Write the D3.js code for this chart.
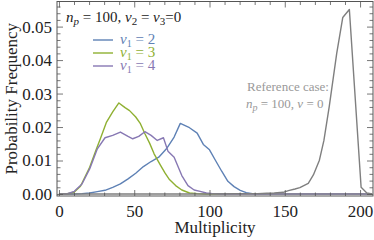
<!DOCTYPE html>
<html>
<head>
<meta charset="utf-8">
<script src="https://cdn.jsdelivr.net/npm/d3@7"></script>
<style>
  body { margin: 0; background: #fff; }
  text { font-family: "Liberation Serif", "DejaVu Serif", serif; }
</style>
</head>
<body>
<div id="canvas"></div>
<script>
// multiplicity values and frequencies
var nu2X = [0, 10.2, 15.3, 20.4, 25.5, 30.6, 35.7, 40.8, 45.9, 51, 56.1, 61.2, 66.3, 71.4, 76.5, 80.6, 86.7, 91.8, 95.9, 100, 104, 108.1, 112.2, 116.3, 120.4, 124.4, 128.5, 132.6, 208];
var nu2Y = [0, 0, 0.0001, 0.0003, 0.0007, 0.0011, 0.002, 0.003, 0.0045, 0.0062, 0.0082, 0.0097, 0.011, 0.0135, 0.017, 0.0211, 0.0198, 0.0182, 0.0148, 0.0132, 0.01, 0.0068, 0.0038, 0.0022, 0.0011, 0.0004, 0.0001, 0, 0];

var nu3X = [0, 5.1, 10.2, 14.3, 20.4, 24.5, 27.5, 31.6, 35.7, 39.8, 43.9, 46.9, 51, 54.1, 57.1, 60.2, 63.2, 67.3, 70.4, 73.4, 77.5, 81.6, 86.7, 91.8, 96.9, 208];
var nu3Y = [0, 0, 0.0006, 0.0023, 0.008, 0.013, 0.0165, 0.0215, 0.0245, 0.0272, 0.0258, 0.0249, 0.023, 0.021, 0.018, 0.0152, 0.012, 0.0087, 0.0063, 0.0043, 0.0025, 0.0012, 0.0003, 0.0001, 0, 0];

var nu4X = [0, 5.1, 10.2, 15.3, 20.4, 25.5, 30.6, 35.7, 40.8, 45.9, 49, 53, 57.1, 61.2, 65.3, 69.4, 72.4, 76.5, 81.6, 85.7, 89.8, 93.8, 97.9, 102, 107.1, 208];
var nu4Y = [0, 0, 0.0008, 0.003, 0.0075, 0.0135, 0.0168, 0.0175, 0.0185, 0.0172, 0.0165, 0.0172, 0.0186, 0.0175, 0.016, 0.0168, 0.0128, 0.011, 0.0055, 0.0025, 0.0012, 0.0008, 0.0003, 0.0001, 0, 0];

var refX = [0, 100, 122, 132, 138, 143, 149, 152.4, 156.8, 160, 165.6, 169, 173, 176, 179.5, 184.5, 188.5, 192.9, 200.7, 204.5, 208];
var refY = [0, 0, 0.0001, 0.0001, 0.0002, 0.0003, 0.0005, 0.001, 0.0015, 0.0019, 0.0032, 0.0057, 0.0101, 0.016, 0.026, 0.042, 0.0527, 0.0551, 0.002, 0.0003, 0];

var seriesNames = ["2", "3", "4"];
var seriesColors = ["#5E81B5", "#8FB032", "#8778B3"];
var refColor = "#7f7f7f";

var xMajor = [0, 50, 100, 150, 200];
var yMajor = [0, 0.01, 0.02, 0.03, 0.04, 0.05];

var W = 374, H = 240;
var frame = {left: 57, right: 373, top: 1.5, bottom: 196};

var svg = d3.select("#canvas").append("svg")
  .attr("width", W).attr("height", H);

var x = d3.scaleLinear().domain([-1.3, 208.6]).range([frame.left, frame.right]);
var y = d3.scaleLinear().domain([-0.0006, 0.0575]).range([frame.bottom, frame.top]);

var line = d3.line()
  .x(function(d) { return x(d[0]); })
  .y(function(d) { return y(d[1]); });

function pairs(xs, ys) { return xs.map(function(v, i) { return [v, ys[i]]; }); }

var all = [pairs(nu2X, nu2Y), pairs(nu3X, nu3Y), pairs(nu4X, nu4Y)];

var plot = svg.append("g");
all.forEach(function(s, i) {
  plot.append("path").datum(s)
    .attr("d", line)
    .attr("fill", "none")
    .attr("stroke", seriesColors[i])
    .attr("stroke-width", 1.4)
    .attr("stroke-linejoin", "round");
});
plot.append("path").datum(pairs(refX, refY))
  .attr("d", line)
  .attr("fill", "none")
  .attr("stroke", refColor)
  .attr("stroke-width", 1.4)
  .attr("stroke-linejoin", "round");

// frame with inward ticks on all sides
var axisColor = "#555";
var xMinor = d3.range(0, 209, 10).filter(function(v) { return v % 50 !== 0; });
var yMinor = d3.range(0, 0.0575, 0.002).filter(function(v) { return Math.abs(v / 0.01 - Math.round(v / 0.01)) > 1e-6; });

svg.append("g")
  .attr("transform", "translate(0," + frame.bottom + ")")
  .call(d3.axisBottom(x).tickValues(xMajor).tickSize(-6).tickPadding(9)
    .tickFormat(d3.format("d")));
svg.append("g")
  .attr("transform", "translate(0," + frame.bottom + ")")
  .call(d3.axisBottom(x).tickValues(xMinor).tickSize(-3.5).tickFormat(""));
svg.append("g")
  .attr("transform", "translate(0," + frame.top + ")")
  .call(d3.axisTop(x).tickValues(xMajor).tickSize(-6).tickFormat(""));
svg.append("g")
  .attr("transform", "translate(0," + frame.top + ")")
  .call(d3.axisTop(x).tickValues(xMinor).tickSize(-3.5).tickFormat(""));

svg.append("g")
  .attr("transform", "translate(" + frame.left + ",0)")
  .call(d3.axisLeft(y).tickValues(yMajor).tickSize(-6).tickPadding(5)
    .tickFormat(d3.format(".2f")));
svg.append("g")
  .attr("transform", "translate(" + frame.left + ",0)")
  .call(d3.axisLeft(y).tickValues(yMinor).tickSize(-3.5).tickFormat(""));
svg.append("g")
  .attr("transform", "translate(" + frame.right + ",0)")
  .call(d3.axisRight(y).tickValues(yMajor).tickSize(-6).tickFormat(""));
svg.append("g")
  .attr("transform", "translate(" + frame.right + ",0)")
  .call(d3.axisRight(y).tickValues(yMinor).tickSize(-3.5).tickFormat(""));

svg.selectAll(".domain").remove();
svg.selectAll(".tick line").attr("stroke", axisColor).attr("stroke-width", 0.8);
svg.selectAll("g").attr("font-family", "Liberation Serif");
svg.selectAll(".tick text")
  .attr("fill", "#222")
  .attr("font-family", "Liberation Serif")
  .attr("font-size", 17);

svg.append("rect")
  .attr("x", frame.left).attr("y", frame.top)
  .attr("width", frame.right - frame.left).attr("height", frame.bottom - frame.top)
  .attr("fill", "none").attr("stroke", axisColor).attr("stroke-width", 1);

// axis titles
svg.append("text")
  .attr("x", 215).attr("y", 233)
  .attr("text-anchor", "middle").attr("font-size", 17).attr("fill", "#222")
  .text("Multiplicity");
svg.append("text")
  .attr("transform", "translate(17," + ((frame.top + frame.bottom) / 2) + ") rotate(-90)")
  .attr("text-anchor", "middle").attr("font-size", 17).attr("fill", "#222")
  .text("Probability Frequency");

// legend header
var hdr = svg.append("text").attr("x", 66).attr("y", 22).attr("font-size", 15).attr("fill", "#222");
hdr.append("tspan").attr("font-style", "italic").text("n");
hdr.append("tspan").attr("font-style", "italic").attr("font-size", 11).attr("dy", 3).text("p");
hdr.append("tspan").attr("dy", -3).text(" = 100, ");
hdr.append("tspan").attr("font-style", "italic").text("\u03bd");
hdr.append("tspan").attr("font-size", 11).attr("dy", 3).text("2");
hdr.append("tspan").attr("dy", -3).text(" = ");
hdr.append("tspan").attr("font-style", "italic").text("\u03bd");
hdr.append("tspan").attr("font-size", 11).attr("dy", 3).text("3");
hdr.append("tspan").attr("dy", -3).text("=0");

seriesNames.forEach(function(name, i) {
  var ly = 40 + i * 13;
  svg.append("line")
    .attr("x1", 93).attr("x2", 113).attr("y1", ly).attr("y2", ly)
    .attr("stroke", seriesColors[i]).attr("stroke-width", 1.4);
  var t = svg.append("text").attr("x", 120).attr("y", ly + 4)
    .attr("font-size", 15).attr("fill", seriesColors[i]);
  t.append("tspan").attr("font-style", "italic").text("\u03bd");
  t.append("tspan").attr("font-size", 10).attr("dy", 2.5).text("1");
  t.append("tspan").attr("dy", -2.5).text(" = " + name);
});

// reference case note
svg.append("text").attr("x", 247).attr("y", 91)
  .attr("font-size", 13).attr("fill", "#999")
  .text("Reference case:");
var rn = svg.append("text").attr("x", 246).attr("y", 108)
  .attr("font-size", 13).attr("fill", "#999");
rn.append("tspan").attr("font-style", "italic").text("n");
rn.append("tspan").attr("font-style", "italic").attr("font-size", 10).attr("dy", 3).text("p");
rn.append("tspan").attr("dy", -3).text(" = 100, ");
rn.append("tspan").attr("font-style", "italic").text("\u03bd");
rn.append("tspan").text(" = 0");
</script>
</body>
</html>
